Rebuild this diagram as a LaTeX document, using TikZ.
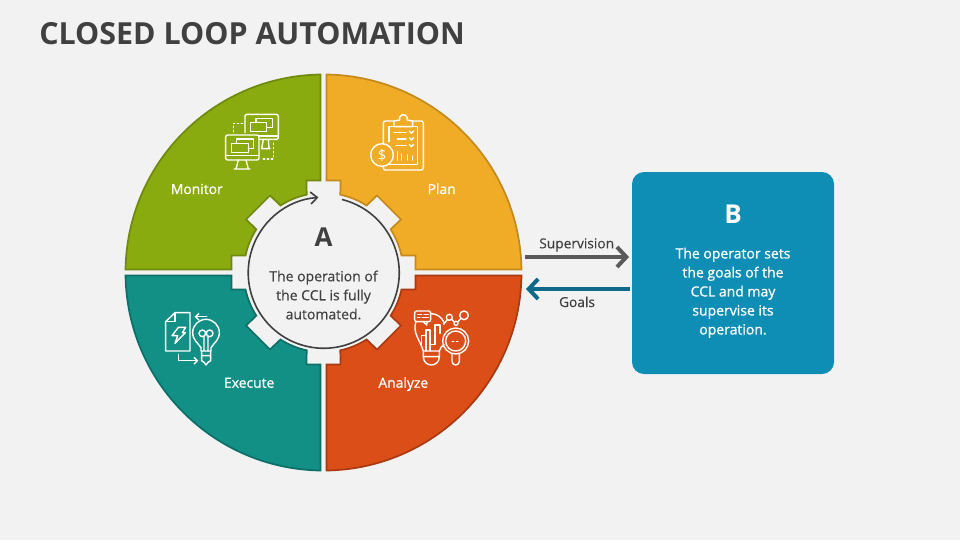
\documentclass[tikz,border=0pt]{standalone}
\usepackage{fontspec}
\setmainfont{Open Sans}
\newfontfamily\heavyfont{Open Sans}[FakeBold=0.8]
\newfontfamily\midfont{Open Sans}[FakeBold=0.3]
\usetikzlibrary{arrows.meta}
\definecolor{pagebg}{HTML}{F2F2F2}
\definecolor{inkgray}{HTML}{404040}
\definecolor{greenfill}{HTML}{8AAB10}
\definecolor{greenedge}{HTML}{6F8A0E}
\definecolor{orangefill}{HTML}{F0AB27}
\definecolor{orangeedge}{HTML}{C58A1C}
\definecolor{tealfill}{HTML}{129086}
\definecolor{tealedge}{HTML}{0D7068}
\definecolor{redfill}{HTML}{DC4E18}
\definecolor{rededge}{HTML}{A93A12}
\definecolor{boxblue}{HTML}{0E8DB5}
\definecolor{arrowgray}{HTML}{5A5A5A}
\definecolor{arrowteal}{HTML}{0F6A8A}
\tikzset{
    px/.style={x=0.75pt,y=-0.75pt},
    icon/.style={draw=white,line width=1.05pt,line join=round,line cap=round},
    zoomed/.style={shift={#1},x=0.25pt,y=-0.25pt},
    bigarrow/.style={line width=3pt,-{Straight Barb[length=7pt,width=15pt,line width=3pt]}},
    sizeb/.style={font=\fontsize{10.5}{14.25}\selectfont\midfont},
    letterhead/.style={font=\fontsize{19.5}{20}\selectfont\bfseries}
}
\begin{document}
\begin{tikzpicture}[px]
\useasboundingbox[fill=pagebg] (0,0) rectangle (960,540);
\node (title) at (39,34)[anchor=west,inkgray,font=\fontsize{22.8}{28}\selectfont\bfseries,inner sep=0] {CLOSED LOOP AUTOMATION};
\foreach \sx/\sy/\fc/\dc in {-1/-1/greenfill/greenedge, 1/-1/orangefill/orangeedge, -1/1/tealfill/tealedge, 1/1/redfill/rededge}{
\begin{scope}[shift={(323.5,272.5)},xscale=\sx,yscale=\sy]
\draw[fill=\fc,draw=\dc,line width=1.3pt,line join=miter] (3,198) arc[start angle=89.13,end angle=0.87,radius=198] -- (92,3) -- (92,17) -- (78,17) arc[start angle=12.3,end angle=32.7,radius=80] -- (77.5,53) -- (53.5,77) -- (43,67) arc[start angle=57.3,end angle=77.7,radius=80] -- (17,92) -- (3,92) -- cycle;
\end{scope}
}
\coordinate (ringstart) at (342,199.5);
\draw[inkgray,line width=1.2pt,-{Straight Barb[length=5pt,width=9pt,line width=1.2pt]}] (ringstart) arc[start angle=-76,end angle=266,radius=75.5];
\foreach \x/\y/\p/\labeltext in {196.8/194/monitor/Monitor, 441.7/194/plan/Plan, 249.2/387.7/execute/Execute, 403.3/387.7/analyze/Analyze}{
\node (\p) at (\x,\y)[anchor=base,white,font=\fontsize{10.4}{12}\selectfont\heavyfont] {\labeltext};
}
\node (aletter) at (323.5,237)[inkgray,letterhead] {A};
\node (atext) at (323.5,295)[inkgray,sizeb,align=center] {The operation of\\the CCL is fully\\automated.};
\node (opbox) at (733,273)[fill=boxblue,rounded corners=9pt,minimum width=151.5pt,minimum height=151.5pt,inner sep=0] {};
\node (bletter) at (733,214)[white,letterhead] {B};
\node (btext) at (733,292.8)[white,align=center,font=\fontsize{10.5}{14.25}\selectfont\heavyfont] {The operator sets\\the goals of the\\CCL and may\\supervise its\\operation.};
\coordinate (supstart) at (525,257);
\coordinate (goalend) at (526,289);
\draw[arrowgray,bigarrow,shorten >=2pt] (supstart) -- (supstart -| opbox.west);
\draw[arrowteal,bigarrow,shorten <=1.5pt] (goalend -| opbox.west) -- (goalend);
\node (suplabel) at (576.7,248.3)[anchor=base,inkgray,font=\fontsize{10.3}{12}\selectfont\midfont] {Supervision};
\node (goallabel) at (577,307)[anchor=base,inkgray,font=\fontsize{10.3}{12}\selectfont\midfont] {Goals};
\begin{scope}[zoomed={(120,70)}]
\draw[icon,rounded corners=1.5pt] (375,188) -- (375,133) -- (475,133) -- (475,208) -- (417,208);
\draw[icon] (417,198) -- (475,198);
\draw[icon] (430,208) -- (425,236) -- (450,236) (445,208) -- (447,236);
\draw[icon] (408,158) -- (408,145) -- (458,145) -- (458,172) -- (440,172);
\draw[icon] (392,158) rectangle (440,185);
\draw[icon,rounded corners=1.5pt] (317,195) rectangle (417,270);
\draw[icon] (317,257) -- (417,257);
\draw[icon] (355,270) -- (348,297) (378,270) -- (385,297) (343,297) -- (390,297);
\draw[icon] (350,220) -- (350,207) -- (400,207) -- (400,235) -- (385,235);
\draw[icon] (334,220) rectangle (385,247);
\draw[icon,dotted] (368,160) -- (340,160) -- (340,188);
\draw[icon,dotted] (460,220) -- (460,267) -- (425,267);
\end{scope}
\begin{scope}[zoomed={(320,70)}]
\draw[icon,rounded corners=1.5pt] (190,222) -- (190,153) -- (222,153) (278,153) -- (310,153) -- (310,300) -- (190,300) -- (190,288);
\draw[icon] (207,215) -- (207,170) -- (293,170) -- (293,283) -- (207,283);
\draw[icon] (222,170) -- (222,153) -- (239,150) arc[start angle=160,end angle=380,radius=12] -- (278,153) -- (278,170) -- cycle;
\draw[icon] (186,255) circle (34);
\node (dollar) at (186,255)[white,inner sep=0,font=\fontsize{11}{12}\selectfont] {\$};
\draw[icon] (222,187) -- (258,187) (232,207) -- (258,207) (228,227) -- (258,227);
\foreach \y in {187,207,227}{
\draw[icon] (268,\y-4) -- (274,\y+3) -- (281,\y-4);
}
\foreach \x/\y in {232/245,245/252,262/255,278/258}{
\draw[icon] (\x,\y) -- (\x,270);
}
\end{scope}
\begin{scope}[zoomed={(120,265)}]
\draw[icon] (137,258) -- (137,170) -- (165,143) -- (210,143) -- (210,258) -- cycle;
\draw[icon] (165,143) -- (165,170) -- (137,170);
\draw[icon] (175,187) -- (197,187) -- (187,203) -- (196,203) -- (165,235) -- (173,212) -- (156,212) -- cycle;
\draw[icon,-{Straight Barb[length=2.5pt,width=5pt]}] (260,155) -- (224,155);
\draw[icon,-{Straight Barb[length=2.5pt,width=5pt]}] (175,268) -- (175,287) -- (235,287);
\draw[icon] (243,258) -- (243,248) .. controls (235,235) and (218,225) .. (218,203) arc[start angle=180,end angle=360,radius=40] .. controls (298,225) and (281,235) .. (273,248) -- (273,258) -- cycle;
\draw[icon] (245,258) -- (245,287) -- (252,292) -- (258,300) -- (264,292) -- (272,287) -- (272,258) (245,272) -- (272,272);
\draw[icon] (247,205) circle (10) (269,205) circle (10) (252,214) -- (252,258) (264,214) -- (264,258);
\end{scope}
\begin{scope}[zoomed={(320,265)}]
\draw[icon,rounded corners=1.5pt] (284,138) rectangle (332,170);
\draw[icon] (310,170) -- (320,180) -- (322,170);
\draw[icon] (293,148) -- (305,148) (312,148) -- (325,148) (293,158) -- (300,158) (306,158) -- (325,158);
\draw[icon] (334,146) .. controls (352,146) and (366,158) .. (373,174);
\draw[icon] (287,172) .. controls (278,205) and (300,225) .. (310,258) -- (358,258) .. controls (360,248) and (366,244) .. (372,238);
\draw[icon] (310,258) -- (310,276) arc[start angle=180,end angle=0,radius=24] -- (358,258) (310,275) -- (358,275);
\draw[icon] (305,238) -- (305,212) -- (318,212) -- (318,258) (318,228) -- (318,195) -- (330,195) -- (330,258) (330,238) -- (345,238) -- (345,180) -- (360,180) -- (360,205);
\draw[icon] (407,228) circle (39) (407,228) circle (30);
\draw[icon] (396,267) -- (396,289) arc[start angle=180,end angle=0,radius=11] -- (418,267);
\draw[icon,dotted] (397,229) -- (418,229);
\draw[icon] (388,157) circle (9) (408,175) circle (6) (432,151) circle (13);
\draw[icon] (371,178) -- (382,164) (395,163) -- (403,171) (413,171) -- (423,160);
\end{scope}
\end{tikzpicture}
\end{document}
